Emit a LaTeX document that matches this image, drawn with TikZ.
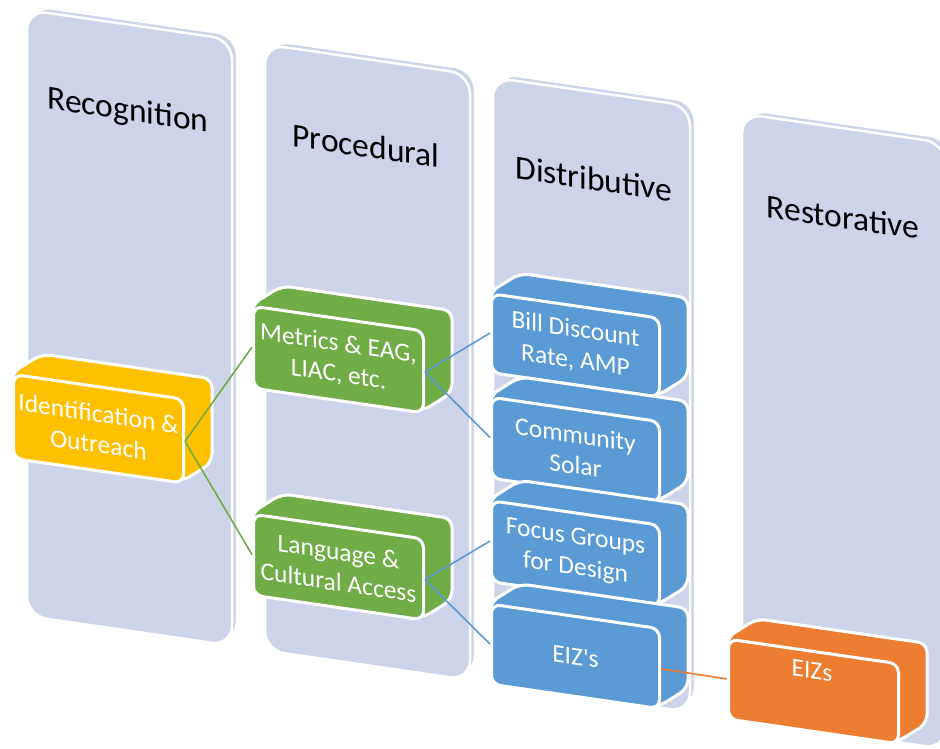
\documentclass[tikz,border=0pt]{standalone}
\usepackage{fontspec}
\setmainfont{Carlito}
\definecolor{lav}{HTML}{CDD4EA}
\definecolor{accYellow}{HTML}{FFC000}
\definecolor{accGreen}{HTML}{70AD47}
\definecolor{accBlue}{HTML}{5B9BD5}
\definecolor{accOrange}{HTML}{ED7D31}
\tikzset{
  colface/.style={fill=lav, draw=white, line width=2.5pt, rounded corners=20pt},
  coltitle/.style={transform shape, anchor=base, font=\fontsize{33.5}{40}\selectfont, text=black},
  blockbody/.style={fill=#1, draw=white, line width=3pt, rounded corners=9pt, line join=round},
  blockface/.style={fill=#1, draw=white, line width=3pt, rounded corners=9pt,
    transform shape, anchor=north west, text=white, align=center,
    font=\fontsize{25.5}{31}\selectfont, inner sep=0pt},
  blocklabel/.style={transform shape, text=white, font=\fontsize{25.5}{31}\selectfont},
  link/.style={draw=#1, line width=1.6pt},
}
% slab with a thin back face: #1 name, #2 left, #3 right
\newcommand\pillar[3]{%
  \path[colface] (#2+5,1) rectangle (#3+5,607);
  \path[colface] (#2,6) rectangle (#3,612) coordinate (#1);
}
% extruded block: #1 name, #2 left, #3 top, #4 width, #5 height, #6 colour, #7 text
\newcommand\block[7]{%
  \path[blockbody=#6] (#2,#3) -- ++(30,-23) -- ++(#4,0) -- ++(0,#5) -- ++(-30,23) -- ++(-#4,0) -- cycle;
  \node[blockface=#6, minimum width=#4pt, minimum height=#5pt] (#1) at (#2,#3) {#7};
}
\begin{document}
\begin{tikzpicture}[x=1pt, y=-1pt]
  \useasboundingbox (0,0) rectangle (940,749);
  \clip (0,0) rectangle (940,749);
  \begin{scope}[yslant=-0.145]
    % columns
    \pillar{colA}{27}{232}
    \pillar{colB}{265}{470}
    \pillar{colC}{493}{690}
    \pillar{colD}{742}{945}
    \node[coltitle] (tA) at (128,102) {Recognition};
    \node[coltitle] (tB) at (366,104) {Procedural};
    \node[coltitle] (tC) at (594,104) {Distributive};
    \node[coltitle] (tD) at (843,106) {Restorative};
    % blocks
    \block{ident}{12}{371}{170}{84}{accYellow}{Identification \&\\Outreach}
    \block{metrics}{252}{268}{170}{82}{accGreen}{Metrics \& EAG,\\LIAC, etc.}
    \block{lang}{252}{476}{170}{81}{accGreen}{Language \&\\Cultural Access}
    \block{bill}{490}{221}{168}{79}{accBlue}{Bill Discount\\Rate, AMP}
    \block{solar}{490}{324.5}{168}{81}{accBlue}{Community\\Solar}
    \block{focus}{490}{428}{168}{81}{accBlue}{Focus Groups\\for Design}
    \block{eizA}{490}{531.5}{168}{80}{accBlue}{EIZ\textquotesingle s}
    \block{eizB}{727}{532}{170}{80}{accOrange}{}
    \node[blocklabel] (eizBtext) at (812,553) {EIZs};
    % connectors
    \draw[link=accGreen] (ident.east) -- (metrics.west);
    \draw[link=accGreen] (ident.east) -- (lang.west);
    \draw[link=accBlue] (metrics.east) -- (bill.west);
    \draw[link=accBlue] (metrics.east) -- (solar.west);
    \draw[link=accBlue] (lang.east) -- (focus.west);
    \draw[link=accBlue] (lang.east) -- (eizA.west);
    \draw[link=accOrange] (eizA.east) -- (eizB.west);
  \end{scope}
\end{tikzpicture}
\end{document}
